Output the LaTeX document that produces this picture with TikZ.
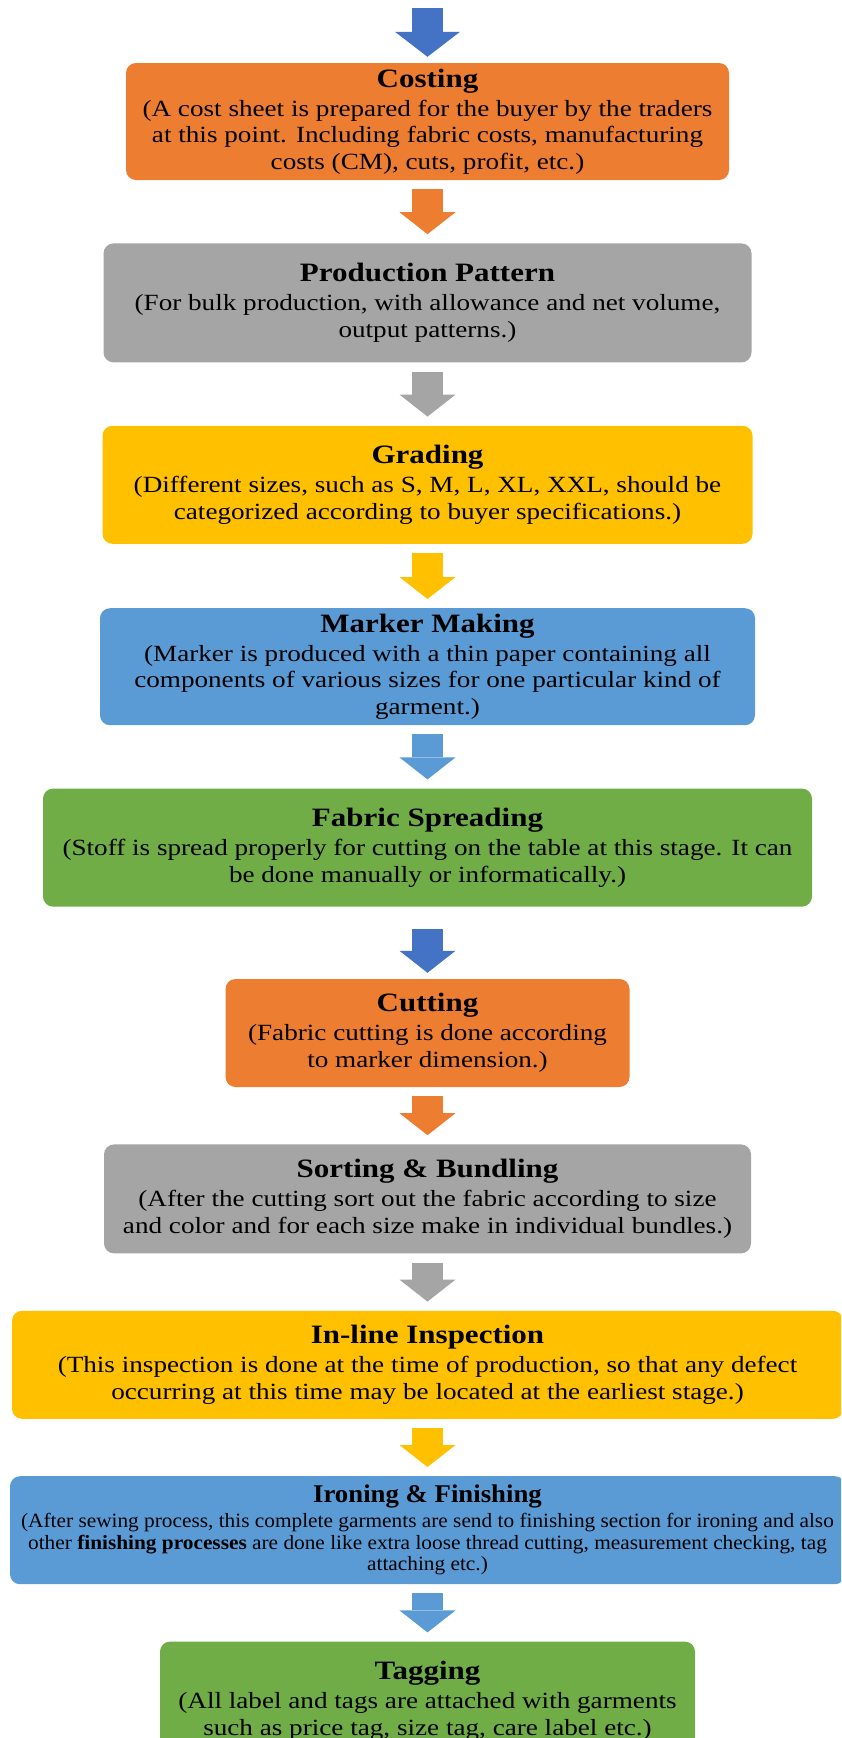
\documentclass[tikz,border=0pt]{standalone}
\usepackage{fontspec}
\setmainfont{Liberation Serif}[FakeStretch=1.17]
\newfontfamily\ironfont{Liberation Serif}[FakeStretch=1.05]
\usetikzlibrary{positioning}
\usetikzlibrary{arrows.meta}

\definecolor{cOrange}{HTML}{ED7D31}
\definecolor{cGray}{HTML}{A5A5A5}
\definecolor{cGold}{HTML}{FFC000}
\definecolor{cLight}{HTML}{5B9BD5}
\definecolor{cBlue}{HTML}{4472C4}
\definecolor{cGreen}{HTML}{70AD47}

\newcommand{\bodytext}{\fontsize{23.2}{26.5}\selectfont}
\newcommand{\headtext}{\fontsize{26.5}{26.5}\selectfont\bfseries}
\newcommand{\smallbody}{\ironfont\fontsize{20.3}{21.5}\selectfont}
\newcommand{\smallhead}{\ironfont\fontsize{25.5}{21.5}\selectfont\bfseries}

\begin{document}
\begin{tikzpicture}[x=1pt,y=-1pt,
	stage/.style={rectangle,rounded corners=10pt,inner sep=0pt,align=center,font=\bodytext},
	flow/.style={line width=31pt,-{Triangle[length=22pt,width=56pt,line width=0pt]},shorten <=9pt,shorten >=9pt}]
	\useasboundingbox (0,0) rectangle (841,1738);
	\clip (0,0) rectangle (841,1738);
	\node[stage,fill=cOrange,minimum width=603pt,minimum height=117pt] (cost) at (427.5,121.5)
		{{\headtext Costing}\\[2.5pt](A cost sheet is prepared for the buyer by the traders\\at this point. Including fabric costs, manufacturing\\costs (CM), cuts, profit, etc.)};
	\node[stage,fill=cGray,minimum width=648pt,minimum height=119pt] (pat) [below=63pt of cost]
		{{\headtext Production Pattern}\\[2.5pt](For bulk production, with allowance and net volume,\\output patterns.)};
	\node[stage,fill=cGold,minimum width=650pt,minimum height=118pt] (grad) [below=63pt of pat]
		{{\headtext Grading}\\[2.5pt](Different sizes, such as S, M, L, XL, XXL, should be\\categorized according to buyer specifications.)};
	\node[stage,fill=cLight,minimum width=655pt,minimum height=117pt] (mark) [below=64pt of grad]
		{{\headtext Marker Making}\\[2.5pt](Marker is produced with a thin paper containing all\\components of various sizes for one particular kind of\\garment.)};
	\node[stage,fill=cGreen,minimum width=769pt,minimum height=118pt] (spread) [below=63pt of mark]
		{{\headtext Fabric Spreading}\\[2.5pt](Stoff is spread properly for cutting on the table at this stage. It can\\be done manually or informatically.)};
	\node[stage,fill=cOrange,minimum width=404pt,minimum height=108pt] (cut) [below=72pt of spread]
		{{\headtext Cutting}\\[2.5pt](Fabric cutting is done according\\to marker dimension.)};
	\node[stage,fill=cGray,minimum width=647pt,minimum height=109pt] (sort) [below=57pt of cut]
		{{\headtext Sorting \& Bundling}\\[2.5pt](After the cutting sort out the fabric according to size\\and color and for each size make in individual bundles.)};
	\node[stage,fill=cGold,minimum width=831pt,minimum height=108pt] (insp) [below=57pt of sort]
		{{\headtext In-line Inspection}\\[2.5pt](This inspection is done at the time of production, so that any defect\\occurring at this time may be located at the earliest stage.)};
	\node[stage,fill=cLight,minimum width=835pt,minimum height=108pt,font=\smallbody] (iron) [below=57pt of insp]
		{{\smallhead Ironing \& Finishing}\\[3.5pt](After sewing process, this complete garments are send to finishing section for ironing and also\\other \textbf{finishing processes} are done like extra loose thread cutting, measurement checking, tag\\attaching etc.)};
	\node[stage,fill=cGreen,minimum width=535pt,minimum height=118pt] (tag) [below=57pt of iron]
		{{\headtext Tagging}\\[2.5pt](All label and tags are attached with garments\\such as price tag, size tag, care label etc.)};
	\coordinate (start) at (427.5,8);
	\path[flow] (start) edge[cBlue,shorten <=0pt,shorten >=6pt,-{Triangle[length=25pt,width=65pt,line width=0pt]}] (cost.north)
		(cost.south) edge[cOrange] (pat.north)
		(pat.south) edge[cGray] (grad.north)
		(grad.south) edge[cGold] (mark.north)
		(mark.south) edge[cLight] (spread.north)
		(spread.south) edge[cBlue,shorten <=22pt,shorten >=6pt] (cut.north)
		(cut.south) edge[cOrange] (sort.north)
		(sort.south) edge[cGray] (insp.north)
		(insp.south) edge[cGold] (iron.north)
		(iron.south) edge[cLight] (tag.north);
\end{tikzpicture}
\end{document}
